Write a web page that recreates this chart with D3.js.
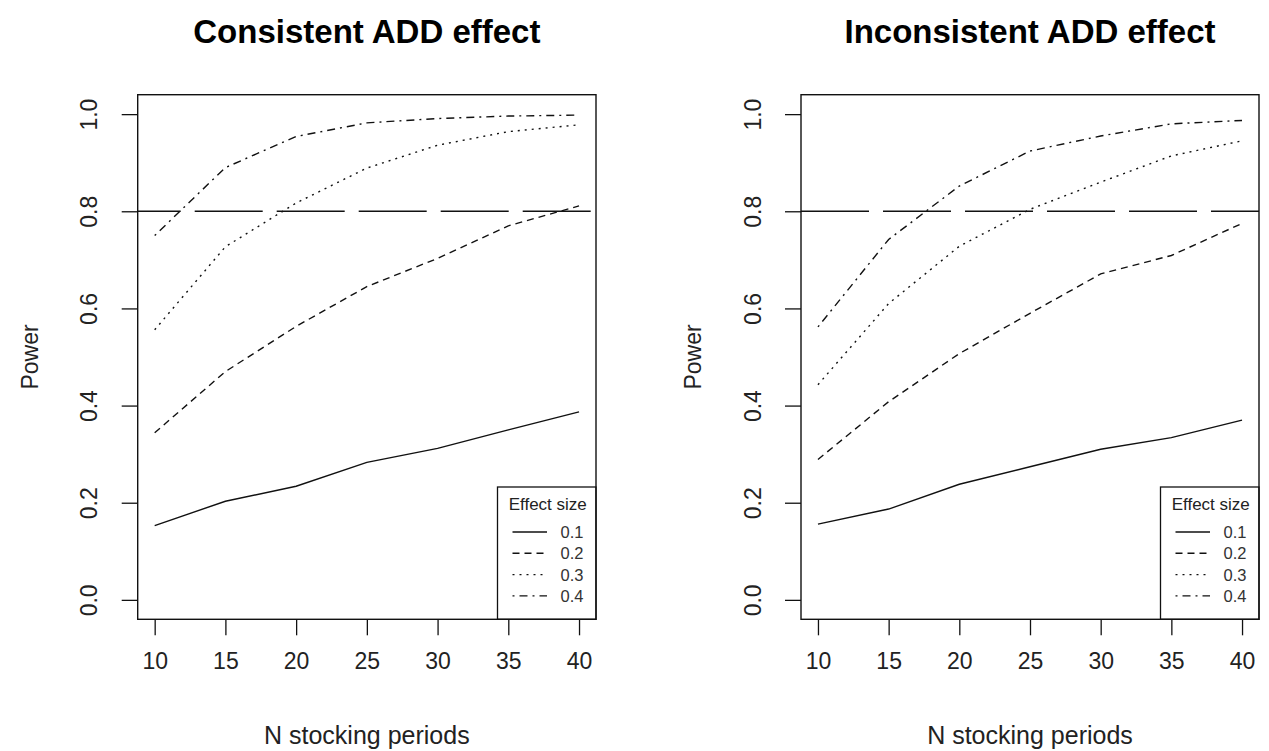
<!DOCTYPE html>
<html>
<head>
<meta charset="utf-8">
<script src="https://cdn.jsdelivr.net/npm/d3@7"></script>
<style>
  html, body { margin: 0; padding: 0; background: #ffffff; }
  svg { display: block; }
  text { font-family: "Liberation Sans", Arial, Helvetica, sans-serif; }
</style>
</head>
<body>
<svg id="chart" width="1269" height="751"></svg>
<script>
// ---------- data ----------
const nPeriods = [10, 15, 20, 25, 30, 35, 40];
const xTickLabels = [10, 15, 20, 25, 30, 35, 40];
const yTickValues = [0, 0.2, 0.4, 0.6, 0.8, 1.0];
const effectSizes = ["0.1", "0.2", "0.3", "0.4"];
const powerTarget = 0.8;
const panelTitles = ["Consistent ADD effect", "Inconsistent ADD effect"];
const xTitle = "N stocking periods";
const yTitle = "Power";
const legendTitle = "Effect size";

// Consistent ADD effect
const consistent01 = [0.153, 0.203, 0.234, 0.283, 0.312, 0.350, 0.387];
const consistent02 = [0.344, 0.470, 0.563, 0.645, 0.703, 0.770, 0.811];
const consistent03 = [0.556, 0.727, 0.817, 0.889, 0.936, 0.964, 0.978];
const consistent04 = [0.750, 0.890, 0.954, 0.982, 0.991, 0.996, 0.998];

// Inconsistent ADD effect
const inconsistent01 = [0.156, 0.187, 0.238, 0.274, 0.310, 0.334, 0.370];
const inconsistent02 = [0.289, 0.408, 0.507, 0.590, 0.671, 0.709, 0.775];
const inconsistent03 = [0.443, 0.610, 0.728, 0.804, 0.860, 0.914, 0.945];
const inconsistent04 = [0.562, 0.742, 0.852, 0.924, 0.955, 0.980, 0.987];

// ---------- styling ----------
const dashStyles = ["none", "7,5", "2,5", "2,5,8,5"];
const ink = "#111";

const panels = [
  { title: panelTitles[0], series: [consistent01, consistent02, consistent03, consistent04],
    left: 137.7, right: 596, hOffset: 25 },
  { title: panelTitles[1], series: [inconsistent01, inconsistent02, inconsistent03, inconsistent04],
    left: 801, right: 1259, hOffset: 0 }
];
const plotTop = 94.7, plotBottom = 619.3;

const svg = d3.select("#chart");

panels.forEach(p => {
  const g = svg.append("g");
  // R-style 4% axis extension
  const xr = d3.extent(nPeriods), xPad = (xr[1] - xr[0]) * 0.04;
  const x = d3.scaleLinear().domain([xr[0] - xPad, xr[1] + xPad]).range([p.left, p.right]);
  const y = d3.scaleLinear().domain([-0.04, 1.04]).range([plotBottom, plotTop]);
  const cx = (p.left + p.right) / 2;

  // title
  g.append("text")
    .attr("x", cx).attr("y", 43)
    .attr("text-anchor", "middle")
    .attr("font-weight", "bold")
    .attr("font-size", 33)
    .attr("fill", "#000")
    .text(p.title);

  // x axis
  const xAxis = g.append("g")
    .attr("transform", `translate(0,${plotBottom})`)
    .call(d3.axisBottom(x).tickValues(xTickLabels).tickSize(16).tickSizeOuter(0).tickFormat(d3.format("d")));
  xAxis.select(".domain").remove();
  xAxis.selectAll(".tick line").attr("stroke", ink).attr("stroke-width", 1.3);
  xAxis.selectAll(".tick text")
    .attr("y", 50).attr("dy", 0)
    .attr("font-size", 23).attr("fill", "#222")
    .attr("font-family", "Liberation Sans, Arial, sans-serif");

  // y axis
  const yAxis = g.append("g")
    .attr("transform", `translate(${p.left},0)`)
    .call(d3.axisLeft(y).tickValues(yTickValues).tickSize(16).tickSizeOuter(0).tickFormat(d3.format(".1f")));
  yAxis.select(".domain").remove();
  yAxis.selectAll(".tick line").attr("stroke", ink).attr("stroke-width", 1.3);
  yAxis.selectAll(".tick text")
    .attr("transform", "rotate(-90)")
    .attr("x", 0).attr("y", -40.5).attr("dy", 0)
    .attr("text-anchor", "middle")
    .attr("font-size", 23).attr("fill", "#222")
    .attr("font-family", "Liberation Sans, Arial, sans-serif");

  // axis titles
  g.append("text")
    .attr("x", cx).attr("y", 744)
    .attr("text-anchor", "middle")
    .attr("font-size", 25).attr("fill", "#222")
    .text(xTitle);
  g.append("text")
    .attr("transform", `translate(${p.left - 100},${(plotTop + plotBottom) / 2}) rotate(-90)`)
    .attr("text-anchor", "middle")
    .attr("font-size", 23).attr("fill", "#222")
    .text(yTitle);

  // clip for the plot region
  const clipId = "clip" + Math.round(p.left);
  svg.append("clipPath").attr("id", clipId)
    .append("rect").attr("x", p.left).attr("y", plotTop)
    .attr("width", p.right - p.left).attr("height", plotBottom - plotTop);

  const plot = g.append("g").attr("clip-path", `url(#${clipId})`);

  // target line
  plot.append("line")
    .attr("x1", p.left).attr("x2", p.right)
    .attr("y1", y(powerTarget)).attr("y2", y(powerTarget))
    .attr("stroke", ink).attr("stroke-width", 1.4)
    .attr("stroke-dasharray", "68,14")
    .attr("stroke-dashoffset", p.hOffset);

  // series lines
  const line = d3.line().x((d, i) => x(nPeriods[i])).y(d => y(d));
  p.series.forEach((s, k) => {
    plot.append("path")
      .datum(s)
      .attr("d", line)
      .attr("fill", "none")
      .attr("stroke", ink)
      .attr("stroke-width", 1.4)
      .attr("stroke-dasharray", dashStyles[k]);
  });

  // legend
  const legLeft = p.right - 98.5, legTop = 487;
  g.append("rect")
    .attr("x", legLeft).attr("y", legTop)
    .attr("width", p.right - legLeft).attr("height", plotBottom - legTop)
    .attr("fill", "#fff").attr("stroke", ink).attr("stroke-width", 1.3);
  g.append("text")
    .attr("x", legLeft + (p.right - legLeft) / 2 + 1).attr("y", legTop + 23)
    .attr("text-anchor", "middle")
    .attr("font-size", 17).attr("fill", "#222")
    .text(legendTitle);
  effectSizes.forEach((lab, k) => {
    const ly = legTop + 45 + k * 21.3;
    g.append("line")
      .attr("x1", legLeft + 15).attr("x2", legLeft + 49.5)
      .attr("y1", ly).attr("y2", ly)
      .attr("stroke", ink).attr("stroke-width", 1.4)
      .attr("stroke-dasharray", dashStyles[k]);
    g.append("text")
      .attr("x", legLeft + 63).attr("y", ly + 6)
      .attr("font-size", 16.5).attr("fill", "#333")
      .text(lab);
  });

  // frame
  g.append("rect")
    .attr("x", p.left).attr("y", plotTop)
    .attr("width", p.right - p.left).attr("height", plotBottom - plotTop)
    .attr("fill", "none").attr("stroke", ink).attr("stroke-width", 1.4);
});
</script>
</body>
</html>
